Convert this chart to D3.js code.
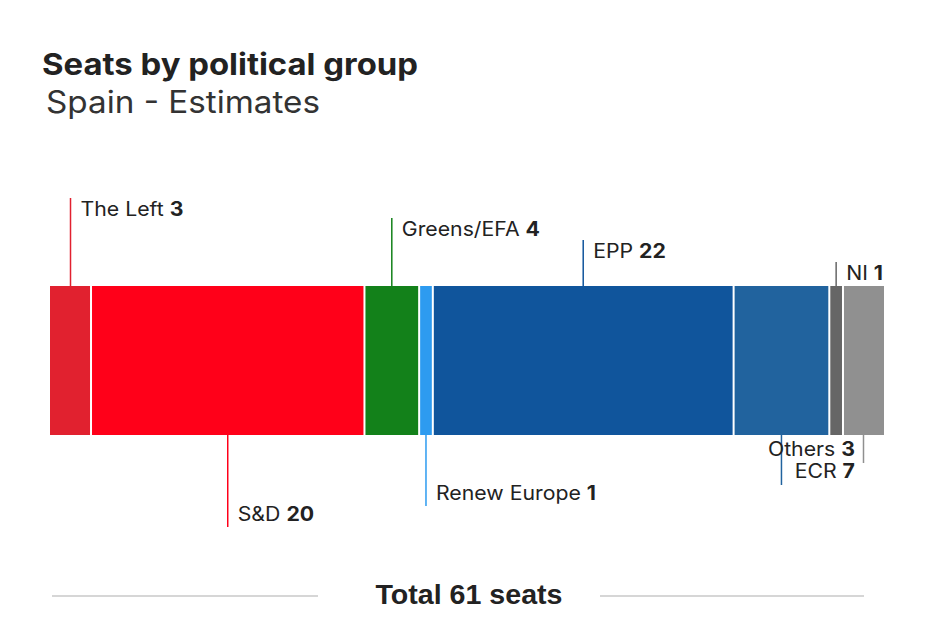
<!DOCTYPE html>
<html><head><meta charset="utf-8">
<script src="https://cdn.jsdelivr.net/npm/d3@7"></script>
<style>body{margin:0;background:#fff;}svg{display:block;}</style>
</head><body>
<svg id="chart" width="940" height="634"></svg>
<script>
const groups = ["The Left","S&D","Greens/EFA","Renew Europe","EPP","ECR","NI","Others"];
const seats = [3,20,4,1,22,7,1,3];
const colors = ["#e1212f","#ff0019","#13811a","#2d9bf0","#10559c","#21639e","#666666","#909090"];
const title = "Seats by political group";
const subtitle = "Spain - Estimates";

// label layout: side (up/down), line end y, text anchor
const labelLayout = [
  {side:"up", y:198, anchor:"start"},
  {side:"down", y:527, anchor:"start"},
  {side:"up", y:218, anchor:"start"},
  {side:"down", y:506, anchor:"start"},
  {side:"up", y:240, anchor:"start"},
  {side:"down", y:485, anchor:"endFixed"},
  {side:"up", y:262, anchor:"start"},
  {side:"down", y:463, anchor:"endFixed"}
];

const svg = d3.select("#chart");
const font = "Inter, 'Noto Sans', sans-serif";
const total = d3.sum(seats);

function stretch(sel, factor){
  const w = sel.node().getComputedTextLength();
  sel.attr("textLength", w*factor).attr("lengthAdjust","spacingAndGlyphs");
}

const t1 = svg.append("text").attr("x",42).attr("y",75).attr("font-family",font).attr("font-weight",700)
  .attr("font-size",30).attr("fill","#222").text(title);
t1.attr("textLength",376).attr("lengthAdjust","spacingAndGlyphs");
const t2 = svg.append("text").attr("x",46).attr("y",113).attr("font-family",font).attr("font-weight",400)
  .attr("font-size",31).attr("fill","#333").text(subtitle);
t2.attr("textLength",274).attr("lengthAdjust","spacingAndGlyphs");

const x = d3.scaleLinear().domain([0,total]).range([50,884]);
const barTop = 286, barBot = 435;
const cum = d3.cumsum(seats);
const data = groups.map((g,i)=>({g, v:seats[i], c:colors[i], x0: i? cum[i-1]:0, x1: cum[i], L:labelLayout[i]}));

svg.selectAll("rect.seg").data(data).enter().append("rect")
  .attr("x",d=>x(d.x0)+ (d.x0>0?1:0))
  .attr("width",d=>x(d.x1)-x(d.x0)-(d.x0>0?1:0)-(d.x1<total?1:0))
  .attr("y",barTop).attr("height",barBot-barTop).attr("fill",d=>d.c);

data.forEach(d=>{
  const cx = (x(d.x0)+x(d.x1))/2;
  const L = d.L;
  const y1 = L.side==="up"? barTop : barBot;
  svg.append("line").attr("x1",cx).attr("x2",cx).attr("y1",y1).attr("y2",L.y)
    .attr("stroke",d.c).attr("stroke-width",1.5);
  let tx, ty, anchor;
  if(L.anchor==="start"){
    tx = cx+10; anchor="start";
    ty = L.side==="up"? L.y+18 : L.y-6;
  } else {
    tx = 855; anchor="end";
    ty = L.y-7;
  }
  const t = svg.append("text").attr("x",tx).attr("y",ty).attr("text-anchor",anchor)
    .attr("font-family",font).attr("font-size",19.5).attr("fill","#222");
  t.append("tspan").text(d.g+" ");
  t.append("tspan").attr("font-weight",700).text(d.v);
  stretch(t, 1.09);
});

// total
svg.append("line").attr("x1",52).attr("x2",318).attr("y1",596).attr("y2",596).attr("stroke","#c8c8c8").attr("stroke-width",1.5);
svg.append("line").attr("x1",600).attr("x2",864).attr("y1",596).attr("y2",596).attr("stroke","#c8c8c8").attr("stroke-width",1.5);
const tt = svg.append("text").attr("x",469).attr("y",604).attr("text-anchor","middle")
  .attr("font-family","'Liberation Sans', Arial, sans-serif").attr("font-weight",700)
  .attr("font-size",27.5).attr("fill","#222").text(`Total ${total} seats`);
tt.attr("textLength",187).attr("lengthAdjust","spacingAndGlyphs");
</script>
</body></html>
